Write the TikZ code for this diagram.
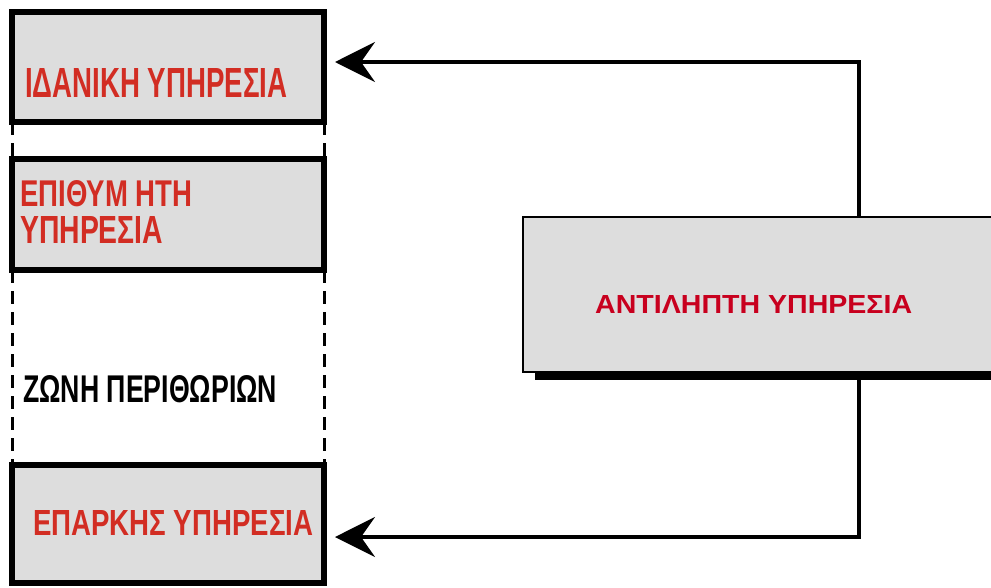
\documentclass[tikz,border=0pt]{standalone}
\usepackage{fontspec}
\setmainfont{Liberation Sans}
\usetikzlibrary{arrows.meta}
\definecolor{boxgray}{RGB}{221,221,221}
\definecolor{lred}{RGB}{210,45,35}
\definecolor{rred}{RGB}{200,0,30}
\newcommand{\fitt}[3]{\resizebox{#1pt}{#2pt}{\bfseries #3}}
\begin{document}
\begin{tikzpicture}[x=1pt,y=-1pt,
  lbox/.style={draw=black, line width=6pt, fill=boxgray, rectangle, inner sep=0pt, outer sep=0pt, minimum width=312pt},
  rboxst/.style={draw=black, line width=1.5pt, fill=boxgray, rectangle, inner sep=0pt, outer sep=0pt},
  ltxt/.style={anchor=north west, inner sep=0pt, text=lred},
  zonedash/.style={line width=3pt, dash pattern=on 13pt off 8pt},
  conn/.style={line width=3.5pt},
  bigarrow/.style={-{Stealth[length=40pt,width=40pt,inset=14pt]}}]
\path[use as bounding box, clip] (0,0) rectangle (991,587);
\fill[white] (0,0) rectangle (991,587);
% left boxes
\node[lbox, minimum height=110pt] (box1) at (168,67) {};
\node[lbox, minimum height=111pt] (box2) at (168,214.5) {};
\node[lbox, minimum height=118pt] (box3) at (168,524) {};
% dashed zone lines
\draw[zonedash] (box1.south west) -- (box2.north west);
\draw[zonedash] (box1.south east) -- (box2.north east);
\draw[zonedash] (box2.south west) -- (box3.north west);
\draw[zonedash] (box2.south east) -- (box3.north east);
% texts
\node[ltxt] (t1) at (25,68) {\fitt{262}{29}{ΙΔΑΝΙΚΗ ΥΠΗΡΕΣΙΑ}};
\node[ltxt] (t2a) at (20,180) {\fitt{172}{26}{ΕΠΙΘΥΜ ΗΤΗ}};
\node[ltxt] (t2b) at (20,216) {\fitt{143}{27}{ΥΠΗΡΕΣΙΑ}};
\node[ltxt, text=black] (t3) at (23,375) {\fitt{254}{27}{ΖΩΝΗ ΠΕΡΙΘΩΡΙΩΝ}};
\node[ltxt] (t4) at (33,510) {\fitt{280}{25}{ΕΠΑΡΚΗΣ ΥΠΗΡΕΣΙΑ}};
% right box with shadow
\fill[black] (535,225) rectangle (1010,380);
\node[rboxst, minimum width=487pt, minimum height=155pt] (rbox) at (766.5,294.5) {};
\node[ltxt, text=rred] (t5) at (595,295) {\fitt{317}{18}{ΑΝΤΙΛΗΠΤΗ ΥΠΗΡΕΣΙΑ}};
% connectors
\coordinate (tr) at (859,62);
\coordinate (br) at (859,537);
\draw[conn, bigarrow, shorten >=11pt] (rbox.north -| tr) -- (tr) -- (box1.east |- tr);
\draw[conn, bigarrow, shorten >=11pt] (rbox.south -| br) -- (br) -- (box3.east |- br);
\end{tikzpicture}
\end{document}
